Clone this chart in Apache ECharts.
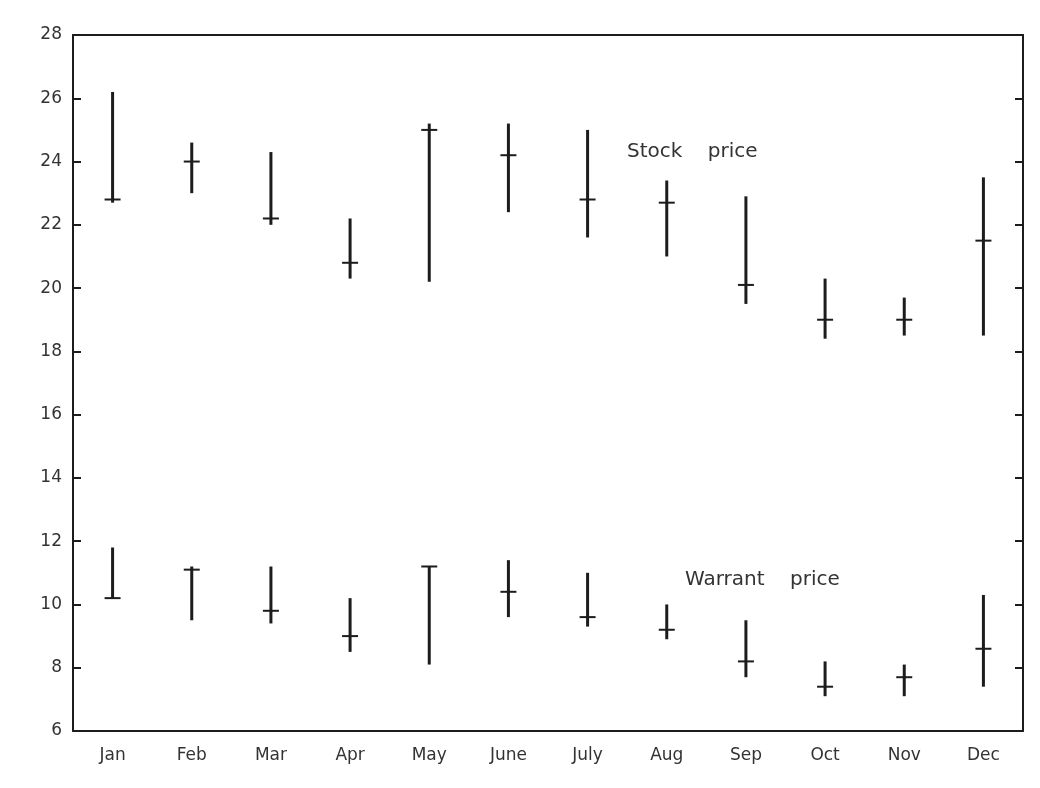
<!DOCTYPE html>
<html>
<head>
<meta charset="utf-8">
<script src="https://cdn.jsdelivr.net/npm/echarts@6/dist/echarts.min.js"></script>
<style>
  html, body { margin: 0; padding: 0; background: #fff; }
  #chart { width: 1040px; height: 788px; }
</style>
</head>
<body>
<div id="chart"></div>
<script>
// months and tick labels
const months = ['Jan', 'Feb', 'Mar', 'Apr', 'May', 'June', 'July', 'Aug', 'Sep', 'Oct', 'Nov', 'Dec'];
const yTicks = [6, 8, 10, 12, 14, 16, 18, 20, 22, 24, 26, 28];

// stock price: high / low / close
const stockHigh  = [26.2, 24.6, 24.3, 22.2, 25.2, 25.2, 25.0, 23.4, 22.9, 20.3, 19.7, 23.5];
const stockLow   = [22.7, 23.0, 22.0, 20.3, 20.2, 22.4, 21.6, 21.0, 19.5, 18.4, 18.5, 18.5];
const stockClose = [22.8, 24.0, 22.2, 20.8, 25.0, 24.2, 22.8, 22.7, 20.1, 19.0, 19.0, 21.5];

// warrant price: high / low / close
const warrantHigh  = [11.8, 11.2, 11.2, 10.2, 11.2, 11.4, 11.0, 10.0, 9.5, 8.2, 8.1, 10.3];
const warrantLow   = [10.2, 9.5, 9.4, 8.5, 8.1, 9.6, 9.3, 8.9, 7.7, 7.1, 7.1, 7.4];
const warrantClose = [10.2, 11.1, 9.8, 9.0, 11.2, 10.4, 9.6, 9.2, 8.2, 7.4, 7.7, 8.6];

const build = (hi, lo, cl) => months.map((m, i) => [i, lo[i], hi[i], cl[i]]);

const ink = '#1c1c1c';

function renderHLC(params, api) {
  const x = api.value(0);
  const low = api.coord([x, api.value(1)]);
  const high = api.coord([x, api.value(2)]);
  const close = api.coord([x, api.value(3)]);
  const half = 8;
  return {
    type: 'group',
    children: [
      { type: 'line', shape: { x1: high[0], y1: high[1], x2: low[0], y2: low[1] },
        style: { stroke: ink, lineWidth: 3 } },
      { type: 'line', shape: { x1: close[0] - half, y1: close[1], x2: close[0] + half, y2: close[1] },
        style: { stroke: ink, lineWidth: 2 } }
    ]
  };
}

const chart = echarts.init(document.getElementById('chart'));
const font = '"DejaVu Sans", sans-serif';

chart.setOption({
  animation: false,
  backgroundColor: '#fff',
  grid: { left: 73, right: 17, top: 35, bottom: 57 },
  xAxis: [
    {
      type: 'category', data: months, boundaryGap: true, position: 'bottom',
      axisLine: { lineStyle: { color: ink, width: 2 } },
      axisTick: { show: false },
      axisLabel: { color: '#333', fontSize: 17, fontFamily: font, margin: 16 },
      splitLine: { show: false }
    },
    {
      type: 'category', data: months, position: 'top',
      axisLine: { lineStyle: { color: ink, width: 2 } },
      axisTick: { show: false }, axisLabel: { show: false }
    }
  ],
  yAxis: [
    {
      type: 'value', min: yTicks[0], max: yTicks[yTicks.length - 1], interval: 2, position: 'left',
      axisLine: { show: true, lineStyle: { color: ink, width: 2 } },
      axisTick: { show: true, inside: true, length: 8, lineStyle: { color: ink, width: 2 } },
      axisLabel: { color: '#333', fontSize: 17, fontFamily: font, margin: 11 },
      splitLine: { show: false }
    },
    {
      type: 'value', min: yTicks[0], max: yTicks[yTicks.length - 1], interval: 2, position: 'right',
      axisLine: { show: true, lineStyle: { color: ink, width: 2 } },
      axisTick: { show: true, inside: true, length: 8, lineStyle: { color: ink, width: 2 } },
      axisLabel: { show: false },
      splitLine: { show: false }
    }
  ],
  graphic: [
    { type: 'text', left: 627, top: 142,
      style: { text: 'Stock    price', fill: '#333', font: '20px ' + font } },
    { type: 'text', left: 685, top: 570,
      style: { text: 'Warrant    price', fill: '#333', font: '20px ' + font } }
  ],
  series: [
    { name: 'Stock price', type: 'custom', renderItem: renderHLC,
      encode: { x: 0, y: [1, 2, 3] }, data: build(stockHigh, stockLow, stockClose) },
    { name: 'Warrant price', type: 'custom', renderItem: renderHLC,
      encode: { x: 0, y: [1, 2, 3] }, data: build(warrantHigh, warrantLow, warrantClose) }
  ]
});
</script>
</body>
</html>
